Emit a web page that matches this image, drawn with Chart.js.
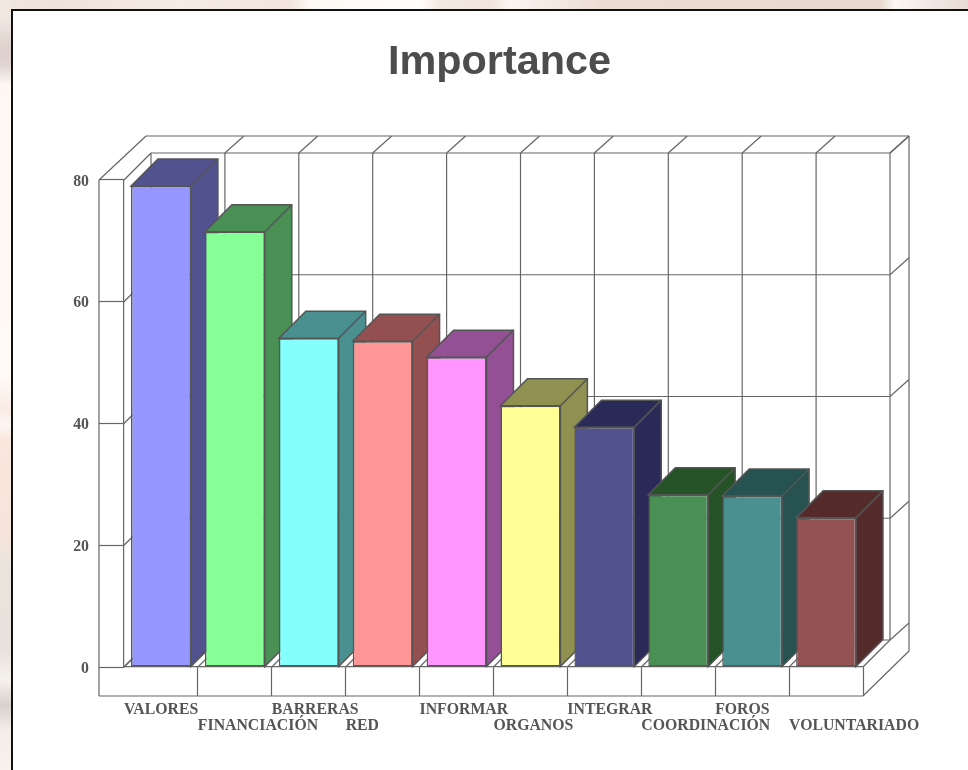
<!DOCTYPE html>
<html>
<head>
<meta charset="utf-8">
<style>
html,body{margin:0;padding:0;width:968px;height:770px;overflow:hidden;background:#fff8f2;}
#topstrip{position:absolute;left:0;top:0;width:968px;height:9px;background:linear-gradient(90deg,#f2e6de 0,#efe2da 60px,#f6ece4 180px,#f2e4dc 290px,#fdf9f5 310px,#fffdfb 420px,#f3e9e2 440px,#f0e4dc 490px,#fbf5f0 510px,#ecdcd4 600px,#e9d8d0 880px,#fbf6f2 895px,#e8dad4 968px);}
#leftstrip{position:absolute;left:0;top:0;width:11px;height:770px;background:linear-gradient(180deg,#f2e8e2 0,#f0e6e0 20px,#ddd0cc 50px,#e0d4d0 65px,#fdf8f2 85px,#fffaf4 380px,#f8ebe4 410px,#fdf6f2 425px,#f9e6dd 440px,#f6e4dc 540px,#ebe4dc 560px,#e8e2dc 650px,#f6f2ee 680px,#d8d0cc 705px,#f4ece8 730px,#f8f2ee 770px);}
#panel{position:absolute;left:11px;top:9px;width:957px;height:761px;box-sizing:border-box;background:#fff;border-left:2px solid #111;border-top:2px solid #111;}
#wrap{position:absolute;left:31px;top:0;width:937px;height:770px;}
canvas{display:block;}
</style>
<script src="https://cdn.jsdelivr.net/npm/chart.js@4"></script>
</head>
<body>
<div id="topstrip"></div>
<div id="leftstrip"></div>
<div id="panel"></div>
<div id="wrap"><canvas id="c" width="937" height="770"></canvas></div>
<script>
const categories = ['VALORES','FINANCIACIÓN','BARRERAS','RED','INFORMAR','ORGANOS','INTEGRAR','COORDINACIÓN','FOROS','VOLUNTARIADO'];
const importance = [79.0,71.5,54.0,53.5,50.9,42.9,39.4,28.3,28.1,24.5];
const frontColors = ['#9696FF','#86FF96','#86FFFF','#FF9696','#FF96FF','#FFFF96','#52528F','#4A9055','#4A9090','#945252'];
const sideColors = ['#52528F','#4A9055','#4A9090','#945050','#945094','#909050','#2A2A58','#265228','#265252','#552A2A'];
const yTicks = [0,20,40,60,80];

const DX = 27, DY = 27;      // bar and floor depth
const WX = 19, WY = 17;      // wall slab depth
const LINE = '#666666', EDGE = '#555555', TEXT = '#555555';

const frame3d = {
  id: 'frame3d',
  beforeDatasetsDraw(chart) {
    const {ctx} = chart, x = chart.scales.x, y = chart.scales.y;
    const L = x.left, R = x.right, n = categories.length, band = (R - L) / n;
    const T = y.getPixelForValue(80), B = y.getPixelForValue(0);
    const seg = (a, b, c, d) => { ctx.beginPath(); ctx.moveTo(a, b); ctx.lineTo(c, d); ctx.stroke(); };
    ctx.save();
    ctx.strokeStyle = LINE; ctx.lineWidth = 1.2;
    // outer front and slab outline
    seg(L - 25, T, L - 25, B + 29);
    seg(L - 25, B + 29, R, B + 29);
    seg(L - 25, T, L + 22, T - DY - WY);
    seg(L + 22, T - DY - WY, R + DX + WX, T - DY - WY);
    seg(R + DX + WX, T - DY - WY, R + DX + WX, B - 16);
    seg(R + DX + WX, B - 16, R, B + 29);
    // back wall, floor and slab lines for each band edge
    for (let i = 0; i <= n; i++) {
      const px = L + i * band;
      seg(px + DX, T - DY, px + DX, B - DY);
      seg(px, B, px + DX, B - DY);
      if (i > 0) seg(px + DX, T - DY, px + DX + WX, T - DY - WY);
    }
    // back wall and side lines for each value tick
    yTicks.forEach(v => {
      const py = y.getPixelForValue(v);
      seg(L + DX, py - DY, R + DX, py - DY);
      seg(L, py, L + DX, py - DY);
      seg(R + DX, py - DY, R + DX + WX, py - DY - WY);
    });
    // bar sides and tops
    const bars = chart.getDatasetMeta(0).data;
    ctx.strokeStyle = EDGE; ctx.lineWidth = 1.5;
    bars.forEach((b, i) => {
      const l = b.x - b.width / 2, r = b.x + b.width / 2, t = b.y, bt = b.base;
      ctx.fillStyle = sideColors[i];
      ctx.beginPath();
      ctx.moveTo(l, t); ctx.lineTo(l + DX, t - DY); ctx.lineTo(r + DX, t - DY);
      ctx.lineTo(r + DX, bt - DY); ctx.lineTo(r, bt); ctx.lineTo(r, t); ctx.closePath();
      ctx.fill(); ctx.stroke();
      seg(r, t, r + DX, t - DY);
    });
    ctx.restore();
  }
};

new Chart(document.getElementById('c'), {
  type: 'bar',
  data: {
    labels: categories,
    datasets: [{
      data: importance,
      backgroundColor: frontColors,
      borderColor: EDGE,
      borderWidth: 1.5,
      borderSkipped: false,
      barPercentage: 0.81,
      categoryPercentage: 1
    }]
  },
  plugins: [frame3d],
  options: {
    responsive: false,
    animation: false,
    events: [],
    layout: {padding: 0},
    plugins: {
      legend: {display: false},
      tooltip: {enabled: false},
      title: {
        display: true,
        text: 'Importance',
        color: '#4d4d4d',
        font: {family: '"Liberation Sans", Arial, sans-serif', size: 41.4, weight: 'bold', lineHeight: 1.2},
        padding: {top: 38, bottom: 92.3}
      }
    },
    scales: {
      x: {
        afterFit(s) { s.height = 103; s.paddingLeft = 0; s.paddingRight = 105; },
        border: {display: true, color: LINE, width: 1.2},
        grid: {
          drawOnChartArea: false, drawTicks: true, tickLength: 29, tickWidth: 1.2, offset: true,
          tickColor: c => c.index === 0 ? 'rgba(0,0,0,0)' : LINE
        },
        ticks: {
          align: 'start', labelOffset: -37, padding: 6, autoSkip: false, maxRotation: 0, minRotation: 0,
          color: TEXT,
          font: {family: '"Liberation Serif", "Times New Roman", serif', size: 15.8, weight: 'bold', lineHeight: 1.013},
          callback(v, i) { return i % 2 ? ['', categories[i]] : categories[i]; }
        }
      },
      y: {
        min: 0, max: 80,
        afterFit(s) { s.width = 93; },
        border: {display: true, color: LINE, width: 1.2},
        grid: {drawOnChartArea: false, drawTicks: true, tickLength: 25, tickWidth: 1.2, tickColor: LINE},
        ticks: {
          stepSize: 20, padding: 10, labelOffset: 1.5, color: TEXT,
          font: {family: '"Liberation Serif", "Times New Roman", serif', size: 15.8, weight: 'bold'}
        }
      }
    }
  }
});
</script>
</body>
</html>
